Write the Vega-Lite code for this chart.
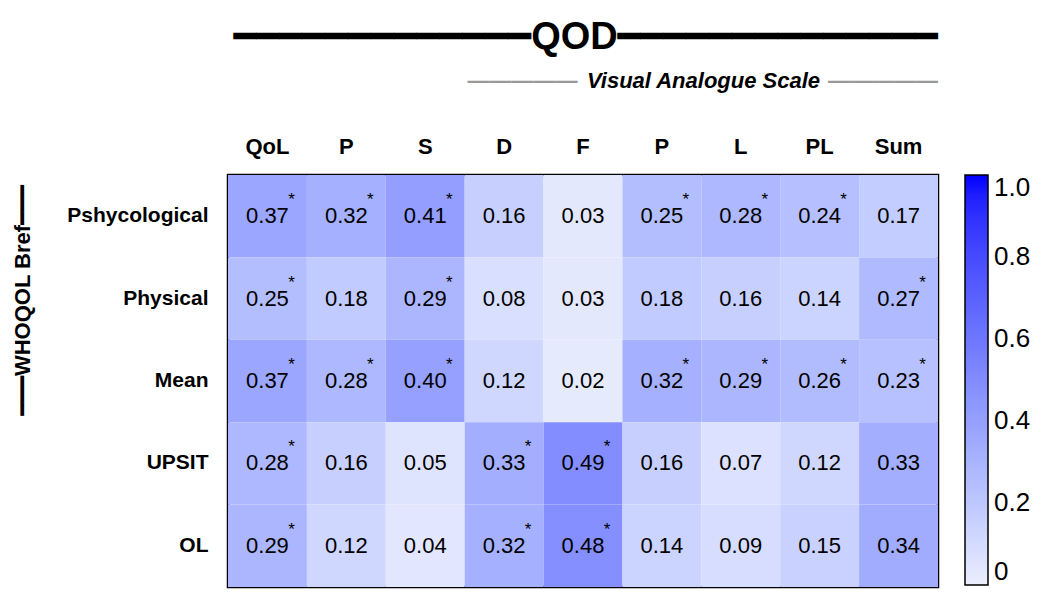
{
  "$schema": "https://vega.github.io/schema/vega-lite/v6.json",
  "width": 710,
  "height": 412,
  "autosize": {"type": "none"},
  "padding": {"left": 228, "top": 175, "right": 99, "bottom": 7},
  "background": "white",
  "config": {"font": "Liberation Sans", "view": {"stroke": "black", "strokeWidth": 2.5}},
  "title": {
    "text": "━━━━━━━━━━━━━QOD━━━━━━━━━━━━━━",
    "subtitle": "—————\u00a0\u00a0\u00a0\u00a0\u00a0\u00a0\u00a0\u00a0\u00a0\u00a0\u00a0\u00a0\u00a0\u00a0\u00a0\u00a0\u00a0\u00a0\u00a0\u00a0\u00a0\u00a0\u00a0\u00a0\u00a0\u00a0\u00a0\u00a0\u00a0\u00a0\u00a0\u00a0\u00a0\u00a0\u00a0\u00a0\u00a0\u00a0\u00a0\u00a0\u00a0—————",
    "anchor": "end",
    "frame": "group",
    "font": "Liberation Sans, DejaVu Sans",
    "fontSize": 38,
    "fontWeight": "bold",
    "color": "black",
    "subtitleFont": "Liberation Sans",
    "subtitleFontSize": 22,
    "subtitleFontWeight": "bold",
    "subtitleColor": "#9a9a9a",
    "subtitlePadding": 14,
    "offset": 0,
    "dy": 23
  },
  "data": {
    "values": [
      {"row": "Pshycological", "col": "QoL", "r": 0.37, "sig": true},
      {"row": "Pshycological", "col": "P1", "r": 0.32, "sig": true},
      {"row": "Pshycological", "col": "S", "r": 0.41, "sig": true},
      {"row": "Pshycological", "col": "D", "r": 0.16, "sig": false},
      {"row": "Pshycological", "col": "F", "r": 0.03, "sig": false},
      {"row": "Pshycological", "col": "P2", "r": 0.25, "sig": true},
      {"row": "Pshycological", "col": "L", "r": 0.28, "sig": true},
      {"row": "Pshycological", "col": "PL", "r": 0.24, "sig": true},
      {"row": "Pshycological", "col": "Sum", "r": 0.17, "sig": false},
      {"row": "Physical", "col": "QoL", "r": 0.25, "sig": true},
      {"row": "Physical", "col": "P1", "r": 0.18, "sig": false},
      {"row": "Physical", "col": "S", "r": 0.29, "sig": true},
      {"row": "Physical", "col": "D", "r": 0.08, "sig": false},
      {"row": "Physical", "col": "F", "r": 0.03, "sig": false},
      {"row": "Physical", "col": "P2", "r": 0.18, "sig": false},
      {"row": "Physical", "col": "L", "r": 0.16, "sig": false},
      {"row": "Physical", "col": "PL", "r": 0.14, "sig": false},
      {"row": "Physical", "col": "Sum", "r": 0.27, "sig": true},
      {"row": "Mean", "col": "QoL", "r": 0.37, "sig": true},
      {"row": "Mean", "col": "P1", "r": 0.28, "sig": true},
      {"row": "Mean", "col": "S", "r": 0.40, "sig": true},
      {"row": "Mean", "col": "D", "r": 0.12, "sig": false},
      {"row": "Mean", "col": "F", "r": 0.02, "sig": false},
      {"row": "Mean", "col": "P2", "r": 0.32, "sig": true},
      {"row": "Mean", "col": "L", "r": 0.29, "sig": true},
      {"row": "Mean", "col": "PL", "r": 0.26, "sig": true},
      {"row": "Mean", "col": "Sum", "r": 0.23, "sig": true},
      {"row": "UPSIT", "col": "QoL", "r": 0.28, "sig": true},
      {"row": "UPSIT", "col": "P1", "r": 0.16, "sig": false},
      {"row": "UPSIT", "col": "S", "r": 0.05, "sig": false},
      {"row": "UPSIT", "col": "D", "r": 0.33, "sig": true},
      {"row": "UPSIT", "col": "F", "r": 0.49, "sig": true},
      {"row": "UPSIT", "col": "P2", "r": 0.16, "sig": false},
      {"row": "UPSIT", "col": "L", "r": 0.07, "sig": false},
      {"row": "UPSIT", "col": "PL", "r": 0.12, "sig": false},
      {"row": "UPSIT", "col": "Sum", "r": 0.33, "sig": false},
      {"row": "OL", "col": "QoL", "r": 0.29, "sig": true},
      {"row": "OL", "col": "P1", "r": 0.12, "sig": false},
      {"row": "OL", "col": "S", "r": 0.04, "sig": false},
      {"row": "OL", "col": "D", "r": 0.32, "sig": true},
      {"row": "OL", "col": "F", "r": 0.48, "sig": true},
      {"row": "OL", "col": "P2", "r": 0.14, "sig": false},
      {"row": "OL", "col": "L", "r": 0.09, "sig": false},
      {"row": "OL", "col": "PL", "r": 0.15, "sig": false},
      {"row": "OL", "col": "Sum", "r": 0.34, "sig": false}
    ]
  },
  "encoding": {
    "x": {
      "field": "col",
      "type": "nominal",
      "sort": ["QoL", "P1", "S", "D", "F", "P2", "L", "PL", "Sum"],
      "scale": {"paddingInner": 0, "paddingOuter": 0},
      "axis": {
        "orient": "top",
        "title": "Visual Analogue Scale",
        "titleFont": "Liberation Sans",
        "titleFontSize": 22,
        "titleFontStyle": "italic",
        "titleFontWeight": "bold",
        "titleColor": "black",
        "titleX": 475,
        "titleY": -88,
        "titleAlign": "center",
        "titleBaseline": "alphabetic",
        "labelExpr": "datum.value == 'P1' || datum.value == 'P2' ? 'P' : datum.value",
        "labelFontSize": 22,
        "labelFontWeight": "bold",
        "labelColor": "black",
        "labelAngle": 0,
        "labelPadding": 17,
        "ticks": false,
        "domain": false
      }
    },
    "y": {
      "field": "row",
      "type": "nominal",
      "sort": ["Pshycological", "Physical", "Mean", "UPSIT", "OL"],
      "scale": {"paddingInner": 0, "paddingOuter": 0},
      "axis": {
        "title": "━━━WHOQOL Bref━━━",
        "titleFont": "Liberation Sans, DejaVu Sans",
        "titleFontSize": 22,
        "titleFontWeight": "bold",
        "titleColor": "black",
        "titleAngle": -90,
        "titleX": -206,
        "titleY": 125,
        "titleAlign": "center",
        "titleBaseline": "middle",
        "labelFontSize": 21,
        "labelFontWeight": "bold",
        "labelColor": "black",
        "labelPadding": 20,
        "ticks": false,
        "domain": false
      }
    }
  },
  "layer": [
    {
      "mark": {"type": "rect"},
      "encoding": {
        "color": {
          "field": "r",
          "type": "quantitative",
          "scale": {"domain": [0, 1], "range": ["#ebeefc", "#0000ff"]},
          "legend": {
            "title": null,
            "orient": "right",
            "direction": "vertical",
            "offset": 27,
            "gradientLength": 410,
            "gradientThickness": 23,
            "gradientStrokeColor": "black",
            "gradientStrokeWidth": 1.5,
            "values": [0, 0.2, 0.4, 0.6, 0.8, 1],
            "labelExpr": "datum.value == 0 ? '0' : format(datum.value, '.1f')",
            "labelFont": "Liberation Sans",
            "labelFontSize": 26,
            "labelColor": "black",
            "labelOffset": 6
          }
        }
      }
    },
    {
      "mark": {"type": "text", "fontSize": 22, "color": "black", "font": "Liberation Sans"},
      "encoding": {"text": {"field": "r", "type": "quantitative", "format": ".2f"}}
    },
    {
      "transform": [{"filter": "datum.sig"}],
      "mark": {"type": "text", "text": "*", "fontSize": 17, "color": "black", "dx": 24, "dy": -16, "font": "Liberation Sans"},
      "encoding": {}
    }
  ]
}
